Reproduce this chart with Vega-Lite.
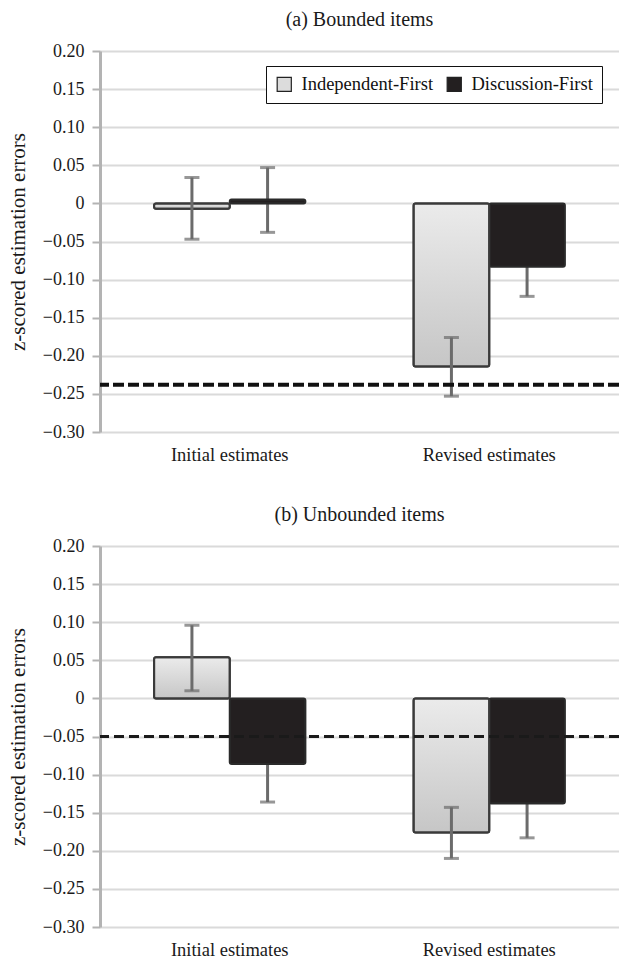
{
  "$schema": "https://vega.github.io/schema/vega-lite/v6.json",
  "background": "white",
  "padding": {"left": 7, "top": 10, "right": 0, "bottom": 0},
  "spacing": 41,
  "config": {
    "font": "Liberation Serif",
    "view": {"stroke": null},
    "title": {"font": "Liberation Serif", "fontSize": 20, "fontWeight": "normal", "color": "#1a1a1a", "frame": "group", "anchor": "middle", "baseline": "alphabetic", "offset": 12},
    "axisX": {"title": null, "domain": false, "ticks": false, "grid": false, "labelAngle": 0, "labelAlign": "center", "labelBaseline": "top", "labelFontSize": 18.5, "labelFont": "Liberation Serif", "labelColor": "#1a1a1a", "labelPadding": 13},
    "axisY": {"labelOverlap": false,
      "titleFont": "Liberation Serif", "titleFontSize": 21, "titleFontWeight": "normal", "titleColor": "#1a1a1a", "titlePadding": 14,
      "labelFont": "Liberation Serif", "labelFontSize": 18, "labelColor": "#1a1a1a", "labelPadding": 8,
      "tickSize": 8, "tickColor": "#b3b3b3", "tickWidth": 2,
      "domainColor": "#b3b3b3", "domainWidth": 3,
      "grid": true, "gridColor": "#dadada", "gridWidth": 2.2}
  },
  "resolve": {"legend": {"fill": "independent"}},
  "datasets": {
    "bars": [
      {"panel": "a", "cat": "Initial estimates", "group": "Independent-First", "value": -0.007, "lo": -0.047, "hi": 0.034},
      {"panel": "a", "cat": "Initial estimates", "group": "Discussion-First", "value": 0.005, "lo": -0.038, "hi": 0.047},
      {"panel": "a", "cat": "Revised estimates", "group": "Independent-First", "value": -0.214, "lo": -0.253, "hi": -0.176},
      {"panel": "a", "cat": "Revised estimates", "group": "Discussion-First", "value": -0.083, "lo": -0.122, "hi": -0.044},
      {"panel": "b", "cat": "Initial estimates", "group": "Independent-First", "value": 0.054, "lo": 0.010, "hi": 0.096},
      {"panel": "b", "cat": "Initial estimates", "group": "Discussion-First", "value": -0.086, "lo": -0.136, "hi": -0.036},
      {"panel": "b", "cat": "Revised estimates", "group": "Independent-First", "value": -0.176, "lo": -0.210, "hi": -0.143},
      {"panel": "b", "cat": "Revised estimates", "group": "Discussion-First", "value": -0.138, "lo": -0.183, "hi": -0.093}
    ],
    "refs": [
      {"panel": "a", "ref": -0.238},
      {"panel": "b", "ref": -0.05}
    ]
  },
  "vconcat": [
    {
      "title": {"text": "(a) Bounded items"},
      "width": 519,
      "height": 381,
      "encoding": {
        "y": {"field": "value", "type": "quantitative",
          "scale": {"domain": [-0.3, 0.2], "nice": false, "zero": false},
          "axis": {"values": [-0.3, -0.25, -0.2, -0.15, -0.1, -0.05, 0, 0.05, 0.1, 0.15, 0.2],
            "labelExpr": "datum.value == 0 ? '0' : replace(format(datum.value, '.2f'), '-', '−')",
            "title": "z-scored estimation errors"}}
      },
      "layer": [
        {
          "data": {"name": "refs"},
          "transform": [{"filter": "datum.panel == 'a'"}],
          "mark": {"type": "rule", "color": "#9a9a9a", "strokeWidth": 2},
          "encoding": {"y": {"datum": 0, "type": "quantitative"}}
        },
        {
          "data": {"name": "bars"},
          "transform": [{"filter": "datum.panel == 'a' && datum.group == 'Discussion-First'"}],
          "mark": {"type": "rule", "color": "#6b6b6b", "strokeWidth": 3},
          "encoding": {
            "x": {"field": "cat", "type": "nominal"},
            "xOffset": {"field": "group", "type": "nominal", "sort": ["Independent-First", "Discussion-First"]},
            "y": {"field": "lo", "type": "quantitative"},
            "y2": {"field": "hi"}
          }
        },
        {
          "data": {"name": "bars"},
          "transform": [{"filter": "datum.panel == 'a' && datum.group == 'Discussion-First'"}],
          "mark": {"type": "tick", "color": "#6b6b6b", "size": 15, "thickness": 3, "orient": "horizontal"},
          "encoding": {
            "x": {"field": "cat", "type": "nominal"},
            "xOffset": {"field": "group", "type": "nominal", "sort": ["Independent-First", "Discussion-First"]},
            "y": {"field": "lo", "type": "quantitative"}
          }
        },
        {
          "data": {"name": "bars"},
          "transform": [{"filter": "datum.panel == 'a' && datum.group == 'Discussion-First'"}],
          "mark": {"type": "tick", "color": "#6b6b6b", "size": 15, "thickness": 3, "orient": "horizontal"},
          "encoding": {
            "x": {"field": "cat", "type": "nominal"},
            "xOffset": {"field": "group", "type": "nominal", "sort": ["Independent-First", "Discussion-First"]},
            "y": {"field": "hi", "type": "quantitative"}
          }
        },
        {
          "data": {"name": "bars"},
          "transform": [{"filter": "datum.panel == 'a'"}],
          "mark": {"type": "bar", "stroke": "#2a2a2a", "strokeWidth": 2, "cornerRadius": 2},
          "encoding": {
            "x": {"field": "cat", "type": "nominal", "sort": ["Initial estimates", "Revised estimates"],
              "scale": {"paddingInner": 0.417, "paddingOuter": 0.2085}},
            "xOffset": {"field": "group", "type": "nominal", "sort": ["Independent-First", "Discussion-First"], "scale": {"paddingInner": 0, "paddingOuter": 0}},
            "fill": {"field": "group", "type": "nominal",
              "scale": {"domain": ["Independent-First", "Discussion-First"], "range": ["#dcdcdc", "#231f20"]},
              "legend": {"orient": "none", "legendX": 166, "legendY": 15, "direction": "horizontal", "title": null,
                "labelFont": "Liberation Serif", "labelFontSize": 18.5, "labelColor": "#111",
                "symbolType": "square", "symbolSize": 200, "symbolStrokeColor": "#222", "symbolStrokeWidth": 1.2,
                "strokeColor": "#111", "fillColor": "white", "padding": 9, "columnPadding": 10, "labelOffset": 8}}
          }
        },
        {
          "data": {"name": "bars"},
          "transform": [{"filter": "datum.panel == 'a' && datum.group == 'Independent-First'"}],
          "mark": {"type": "bar", "stroke": "#3a3a3a", "strokeWidth": 2, "cornerRadius": 2,
            "fill": {"gradient": "linear", "x1": 0, "y1": 0, "x2": 0, "y2": 1, "stops": [{"offset": 0, "color": "#ebebeb"}, {"offset": 1, "color": "#c6c6c6"}]}},
          "encoding": {
            "x": {"field": "cat", "type": "nominal"},
            "xOffset": {"field": "group", "type": "nominal", "sort": ["Independent-First", "Discussion-First"]}
          }
        },
        {
          "data": {"name": "bars"},
          "transform": [{"filter": "datum.panel == 'a' && datum.group == 'Independent-First'"}],
          "mark": {"type": "rule", "color": "#6b6b6b", "strokeWidth": 3},
          "encoding": {
            "x": {"field": "cat", "type": "nominal"},
            "xOffset": {"field": "group", "type": "nominal", "sort": ["Independent-First", "Discussion-First"]},
            "y": {"field": "lo", "type": "quantitative"},
            "y2": {"field": "hi"}
          }
        },
        {
          "data": {"name": "bars"},
          "transform": [{"filter": "datum.panel == 'a' && datum.group == 'Independent-First'"}],
          "mark": {"type": "tick", "color": "#6b6b6b", "size": 15, "thickness": 3, "orient": "horizontal"},
          "encoding": {
            "x": {"field": "cat", "type": "nominal"},
            "xOffset": {"field": "group", "type": "nominal", "sort": ["Independent-First", "Discussion-First"]},
            "y": {"field": "lo", "type": "quantitative"}
          }
        },
        {
          "data": {"name": "bars"},
          "transform": [{"filter": "datum.panel == 'a' && datum.group == 'Independent-First'"}],
          "mark": {"type": "tick", "color": "#6b6b6b", "size": 15, "thickness": 3, "orient": "horizontal"},
          "encoding": {
            "x": {"field": "cat", "type": "nominal"},
            "xOffset": {"field": "group", "type": "nominal", "sort": ["Independent-First", "Discussion-First"]},
            "y": {"field": "hi", "type": "quantitative"}
          }
        },
        {
          "data": {"name": "refs"},
          "transform": [{"filter": "datum.panel == 'a'"}],
          "mark": {"type": "rule", "color": "#111", "strokeWidth": 4, "strokeDash": [11, 4]},
          "encoding": {"y": {"field": "ref", "type": "quantitative"}}
        }
      ]
    },
    {
      "title": {"text": "(b) Unbounded items"},
      "width": 519,
      "height": 381,
      "encoding": {
        "y": {"field": "value", "type": "quantitative",
          "scale": {"domain": [-0.3, 0.2], "nice": false, "zero": false},
          "axis": {"values": [-0.3, -0.25, -0.2, -0.15, -0.1, -0.05, 0, 0.05, 0.1, 0.15, 0.2],
            "labelExpr": "datum.value == 0 ? '0' : replace(format(datum.value, '.2f'), '-', '−')",
            "title": "z-scored estimation errors"}}
      },
      "layer": [
        {
          "data": {"name": "refs"},
          "transform": [{"filter": "datum.panel == 'b'"}],
          "mark": {"type": "rule", "color": "#9a9a9a", "strokeWidth": 2},
          "encoding": {"y": {"datum": 0, "type": "quantitative"}}
        },
        {
          "data": {"name": "bars"},
          "transform": [{"filter": "datum.panel == 'b' && datum.group == 'Discussion-First'"}],
          "mark": {"type": "rule", "color": "#6b6b6b", "strokeWidth": 3},
          "encoding": {
            "x": {"field": "cat", "type": "nominal"},
            "xOffset": {"field": "group", "type": "nominal", "sort": ["Independent-First", "Discussion-First"]},
            "y": {"field": "lo", "type": "quantitative"},
            "y2": {"field": "hi"}
          }
        },
        {
          "data": {"name": "bars"},
          "transform": [{"filter": "datum.panel == 'b' && datum.group == 'Discussion-First'"}],
          "mark": {"type": "tick", "color": "#6b6b6b", "size": 15, "thickness": 3, "orient": "horizontal"},
          "encoding": {
            "x": {"field": "cat", "type": "nominal"},
            "xOffset": {"field": "group", "type": "nominal", "sort": ["Independent-First", "Discussion-First"]},
            "y": {"field": "lo", "type": "quantitative"}
          }
        },
        {
          "data": {"name": "bars"},
          "transform": [{"filter": "datum.panel == 'b'"}],
          "mark": {"type": "bar", "stroke": "#2a2a2a", "strokeWidth": 2, "cornerRadius": 2},
          "encoding": {
            "x": {"field": "cat", "type": "nominal", "sort": ["Initial estimates", "Revised estimates"],
              "scale": {"paddingInner": 0.417, "paddingOuter": 0.2085}},
            "xOffset": {"field": "group", "type": "nominal", "sort": ["Independent-First", "Discussion-First"], "scale": {"paddingInner": 0, "paddingOuter": 0}},
            "fill": {"field": "group", "type": "nominal",
              "scale": {"domain": ["Independent-First", "Discussion-First"], "range": ["#dcdcdc", "#231f20"]},
              "legend": null}
          }
        },
        {
          "data": {"name": "bars"},
          "transform": [{"filter": "datum.panel == 'b' && datum.group == 'Independent-First'"}],
          "mark": {"type": "bar", "stroke": "#3a3a3a", "strokeWidth": 2, "cornerRadius": 2,
            "fill": {"gradient": "linear", "x1": 0, "y1": 0, "x2": 0, "y2": 1, "stops": [{"offset": 0, "color": "#ebebeb"}, {"offset": 1, "color": "#c6c6c6"}]}},
          "encoding": {
            "x": {"field": "cat", "type": "nominal"},
            "xOffset": {"field": "group", "type": "nominal", "sort": ["Independent-First", "Discussion-First"]}
          }
        },
        {
          "data": {"name": "bars"},
          "transform": [{"filter": "datum.panel == 'b' && datum.group == 'Independent-First'"}],
          "mark": {"type": "rule", "color": "#6b6b6b", "strokeWidth": 3},
          "encoding": {
            "x": {"field": "cat", "type": "nominal"},
            "xOffset": {"field": "group", "type": "nominal", "sort": ["Independent-First", "Discussion-First"]},
            "y": {"field": "lo", "type": "quantitative"},
            "y2": {"field": "hi"}
          }
        },
        {
          "data": {"name": "bars"},
          "transform": [{"filter": "datum.panel == 'b' && datum.group == 'Independent-First'"}],
          "mark": {"type": "tick", "color": "#6b6b6b", "size": 15, "thickness": 3, "orient": "horizontal"},
          "encoding": {
            "x": {"field": "cat", "type": "nominal"},
            "xOffset": {"field": "group", "type": "nominal", "sort": ["Independent-First", "Discussion-First"]},
            "y": {"field": "lo", "type": "quantitative"}
          }
        },
        {
          "data": {"name": "bars"},
          "transform": [{"filter": "datum.panel == 'b' && datum.group == 'Independent-First'"}],
          "mark": {"type": "tick", "color": "#6b6b6b", "size": 15, "thickness": 3, "orient": "horizontal"},
          "encoding": {
            "x": {"field": "cat", "type": "nominal"},
            "xOffset": {"field": "group", "type": "nominal", "sort": ["Independent-First", "Discussion-First"]},
            "y": {"field": "hi", "type": "quantitative"}
          }
        },
        {
          "data": {"name": "refs"},
          "transform": [{"filter": "datum.panel == 'b'"}],
          "mark": {"type": "rule", "color": "#1a1a1a", "strokeWidth": 3, "strokeDash": [10, 5]},
          "encoding": {"y": {"field": "ref", "type": "quantitative"}}
        }
      ]
    }
  ]
}
